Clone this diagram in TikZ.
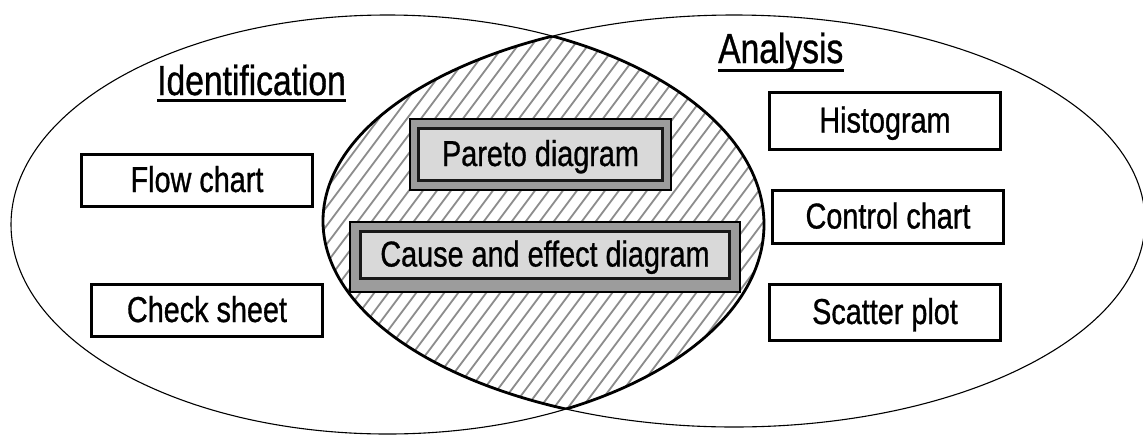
\documentclass[tikz,border=0pt]{standalone}
\usepackage{fontspec}
\newfontfamily\narrowsans[FakeStretch=0.8,FakeBold=0.8]{Liberation Sans}
\definecolor{bandgray}{HTML}{9C9C9C}
\definecolor{fillgray}{HTML}{D9D9D9}
\definecolor{hatchgray}{HTML}{8C8C8C}
\begin{document}
\begin{tikzpicture}[x=1pt,y=-1pt,
  thinline/.style={draw=black, line width=1.1pt},
  lensline/.style={draw=black, line width=2.8pt},
  hatchline/.style={draw=hatchgray, line width=1.8pt},
  boxfont/.style={font=\narrowsans\fontsize{36}{40}\selectfont, text height=26pt, text depth=3pt},
  box/.style={boxfont, draw=black, line width=3pt, fill=white, inner sep=0pt, minimum width=231pt},
  outerbox/.style={draw=black, line width=2.2pt, fill=bandgray, inner sep=0pt},
  innerbox/.style={boxfont, draw=black!90, line width=3pt, fill=fillgray, inner sep=0pt},
  heading/.style={font=\narrowsans\fontsize{42}{46}\selectfont, inner sep=0pt, anchor=base west},
  underline/.style={draw=black, line width=3pt}
]
\useasboundingbox[fill=white] (0,0) rectangle (1143,437);

% hatching of the overlap
\begin{scope}
  \clip (387.5,224.5) ellipse [x radius=376.5pt, y radius=209.5pt];
  \clip (734,221) ellipse [x radius=411pt, y radius=206pt];
  \foreach \x in {-20,-6,...,800} {
    \draw[hatchline] (\x,445) -- ++(334,-445);
  }
\end{scope}

% thin outer ellipses
\draw[thinline] (387.5,224.5) ellipse [x radius=376.5pt, y radius=209.5pt];
\draw[thinline] (734,221) ellipse [x radius=411pt, y radius=206pt];

% thick boundary of the overlap
\begin{scope}
  \clip (734,221) ellipse [x radius=411pt, y radius=206pt];
  \draw[lensline] (387.5,224.5) ellipse [x radius=376.5pt, y radius=209.5pt];
\end{scope}
\begin{scope}
  \clip (387.5,224.5) ellipse [x radius=376.5pt, y radius=209.5pt];
  \draw[lensline] (734,221) ellipse [x radius=411pt, y radius=206pt];
\end{scope}

% headings
\node[heading] (ident) at (157,95) {Identification};
\draw[underline] ([yshift=-5pt]ident.base west) -- ([yshift=-5pt]ident.base east);
\node[heading] (anal) at (718,63) {Analysis};
\draw[underline] ([yshift=-7pt]anal.base west) -- ([yshift=-7pt]anal.base east);

% left boxes
\node[box, minimum height=52pt] (flow) at (197,180.5) {Flow chart};
\node[box, minimum height=52pt] (check) at (207,310.5) {Check sheet};

% right boxes
\node[box, minimum height=57pt] (hist) at (885,121) {Histogram};
\node[box, minimum height=53pt] (control) at (888,217) {Control chart};
\node[box, minimum height=56pt] (scatter) at (885,312.5) {Scatter plot};

% overlap boxes
\node[outerbox, minimum width=261pt, minimum height=71pt] (paretoframe) at (540.5,154.5) {};
\node[innerbox, minimum width=244pt, minimum height=52pt] (pareto) at (540.5,154.5) {Pareto diagram};
\node[outerbox, minimum width=390pt, minimum height=70pt] (causeframe) at (545,257) {};
\node[innerbox, minimum width=369pt, minimum height=47pt] (cause) at (545,255) {Cause and effect diagram};
\end{tikzpicture}
\end{document}
